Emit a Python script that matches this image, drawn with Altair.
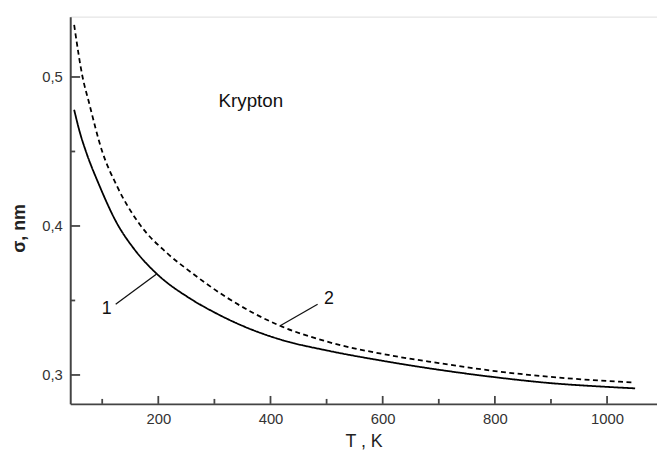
import altair as alt
import pandas as pd

# Curve 1 (solid)
T1 = [50, 60, 71, 94, 126, 158, 197, 258, 300, 350, 420, 500, 600, 700, 800, 900, 1000, 1050]
S1 = [0.478, 0.463, 0.450, 0.428, 0.402, 0.384, 0.368, 0.351, 0.342, 0.333, 0.3235, 0.3165, 0.3095, 0.3035, 0.2985, 0.2945, 0.2920, 0.2910]
# Curve 2 (dashed)
T2 = [50, 65, 76, 100, 126, 167, 215, 258, 322, 417, 495, 616, 700, 792, 939, 1048]
S2 = [0.535, 0.500, 0.4835, 0.450, 0.427, 0.401, 0.382, 0.369, 0.352, 0.333, 0.323, 0.313, 0.308, 0.303, 0.2975, 0.295]

X_DOMAIN = [43, 1089]
Y_DOMAIN = [0.2806, 0.5405]
X_MAJOR = [200, 400, 600, 800, 1000]
X_MINOR = [100, 300, 500, 700, 900]
Y_MAJOR = [0.3, 0.4, 0.5]
Y_MINOR = [0.35, 0.45]

# annotations (data units)
ANN_TEXT = ["Krypton", "1", "2"]
ANN_T = [365, 108, 504]
ANN_S = [0.4835, 0.3442, 0.3509]
LEAD_T1 = [124, 484]
LEAD_S1 = [0.3475, 0.3475]
LEAD_T2 = [197, 418]
LEAD_S2 = [0.3677, 0.3332]

W, H = 594, 392

df = pd.DataFrame(
    {"T": T1 + T2, "s": S1 + S2, "curve": ["1"] * len(T1) + ["2"] * len(T2)}
)

xs = alt.Scale(domain=X_DOMAIN, nice=False, zero=False)
ys = alt.Scale(domain=Y_DOMAIN, nice=False, zero=False)

font = "Liberation Sans"
AX = "#444"

lines = alt.Chart(df).mark_line(color="black", strokeWidth=1.8, clip=True, interpolate="monotone").encode(
    x=alt.X("T:Q", scale=xs, axis=alt.Axis(
        values=X_MAJOR, tickSize=0, grid=False, domainColor=AX, domainWidth=2,
        labelFontSize=15, labelColor="#333", labelPadding=8, labelFont=font,
        labelExpr="format(datum.value, 'd')",
        title="T , K", titleFont=font, titleFontSize=18, titleFontWeight="normal",
        titleColor="#222", titlePadding=6)),
    y=alt.Y("s:Q", scale=ys, axis=alt.Axis(
        values=Y_MAJOR, tickSize=0, grid=False, domainColor=AX, domainWidth=2,
        labelFontSize=15, labelColor="#333", labelPadding=8, labelFont=font,
        labelExpr="replace(format(datum.value, '.1f'), '.', ',')",
        title="σ, nm", titleFont=font, titleFontSize=18, titleFontWeight="bold",
        titleColor="#222", titleAngle=-90, titleX=-51, titleY=214,
        titleAlign="center", titleBaseline="middle")),
    strokeDash=alt.StrokeDash("curve:N", scale=alt.Scale(domain=["1", "2"], range=[[1, 0], [5, 3.5]]), legend=None),
    detail="curve:N",
)

ymaj = alt.Chart(pd.DataFrame({"v": Y_MAJOR})).mark_rule(color=AX, strokeWidth=1.8).encode(
    y=alt.Y("v:Q", scale=ys), x=alt.value(0), x2=alt.value(10))
ymin = alt.Chart(pd.DataFrame({"v": Y_MINOR})).mark_rule(color=AX, strokeWidth=1.8).encode(
    y=alt.Y("v:Q", scale=ys), x=alt.value(0), x2=alt.value(5))
xmaj = alt.Chart(pd.DataFrame({"v": X_MAJOR})).mark_rule(color=AX, strokeWidth=1.8).encode(
    x=alt.X("v:Q", scale=xs), y=alt.value(H), y2=alt.value(H - 8))
xmin = alt.Chart(pd.DataFrame({"v": X_MINOR})).mark_rule(color=AX, strokeWidth=1.8).encode(
    x=alt.X("v:Q", scale=xs), y=alt.value(H), y2=alt.value(H - 5))

ann = alt.Chart(pd.DataFrame({"t": ANN_TEXT, "T": ANN_T, "s": ANN_S, "fs": [19, 18, 18]})).mark_text(
    font=font, color="#111", align="center", baseline="middle").encode(
    x=alt.X("T:Q", scale=xs), y=alt.Y("s:Q", scale=ys), text="t:N",
    size=alt.Size("fs:Q", scale=None, legend=None))

leads = alt.Chart(pd.DataFrame({"T1": LEAD_T1, "S1": LEAD_S1, "T2": LEAD_T2, "S2": LEAD_S2})).mark_rule(
    color="#111", strokeWidth=1.3).encode(
    x=alt.X("T1:Q", scale=xs), y=alt.Y("S1:Q", scale=ys),
    x2="T2:Q", y2="S2:Q")

chart = alt.layer(lines, ymaj, ymin, xmaj, xmin, leads, ann).properties(
    width=W, height=H,
    autosize=alt.AutoSizeParams(type="none"),
    padding={"left": 63, "top": 6, "right": 0, "bottom": 48},
).configure_view(stroke=None).configure(background="white")

chart.save("out.html", embed_options={"renderer": "svg", "actions": False})
